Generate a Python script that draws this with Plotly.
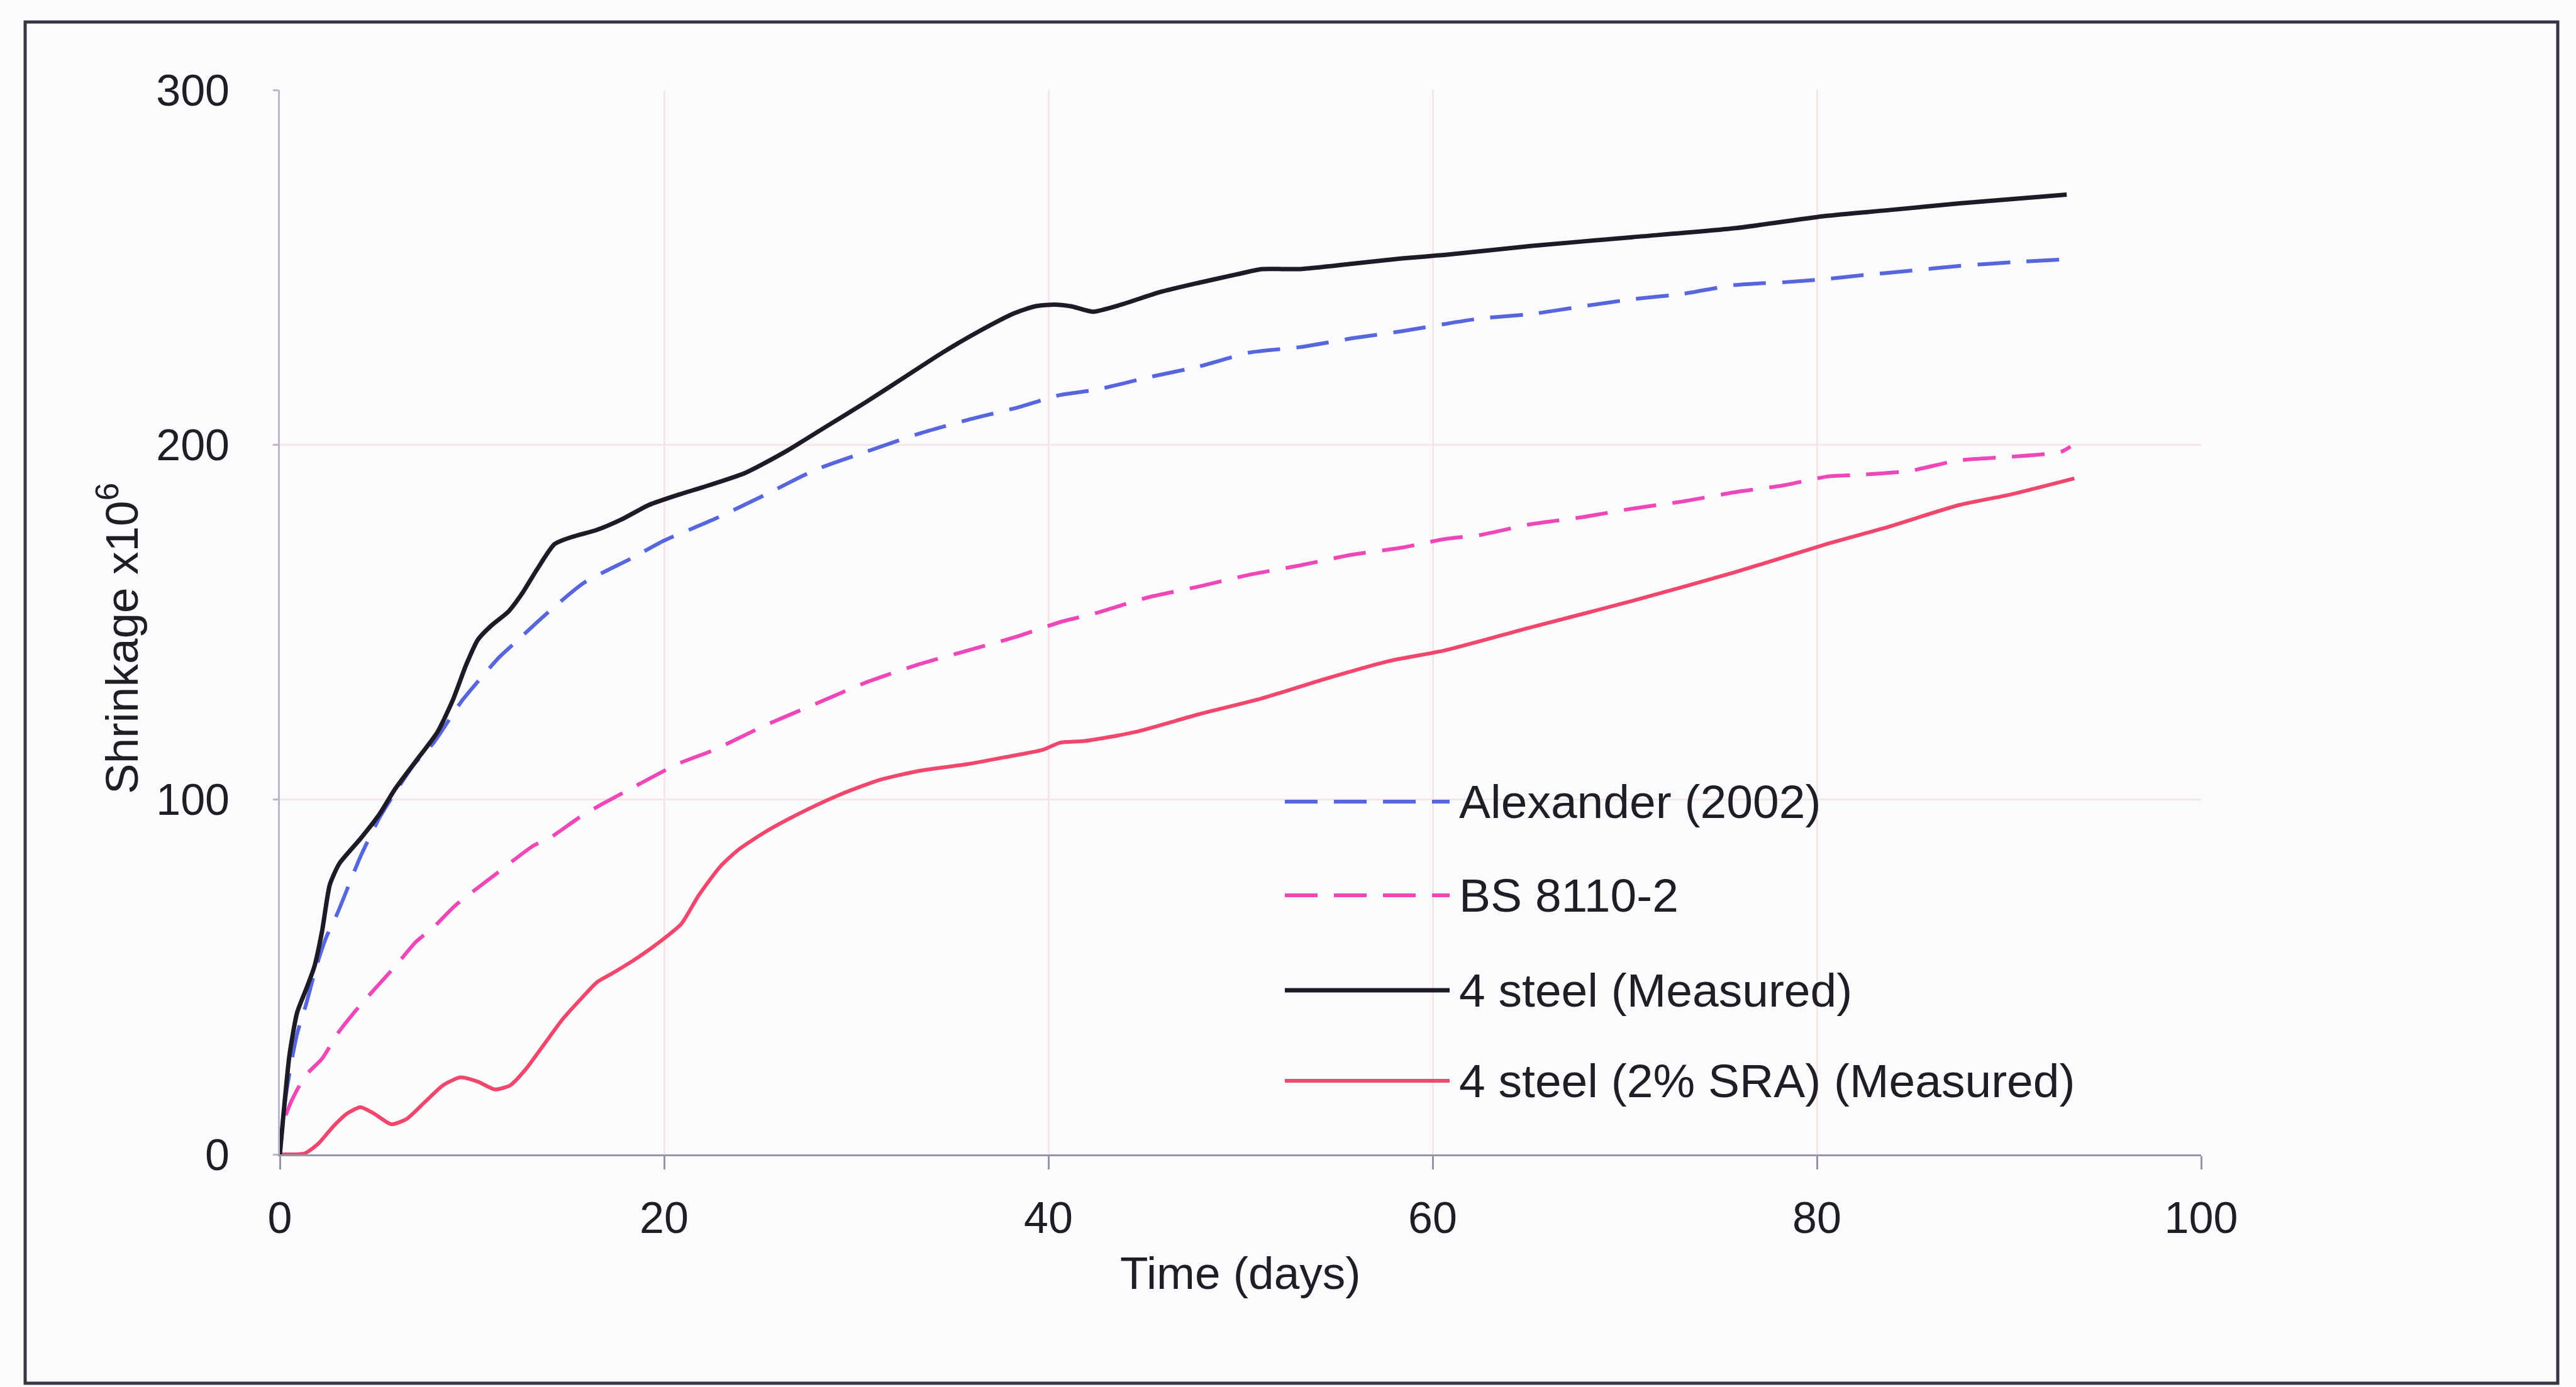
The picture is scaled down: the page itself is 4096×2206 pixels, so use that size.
import plotly.graph_objects as go

# Shrinkage (x10^-6) against time (days)
alex_days = [0, 0.3, 0.6, 0.9, 1.35, 1.9, 2.4, 3.0, 4.2, 5.2, 6.0, 7.0, 8.0, 9.5, 11.4, 12.2, 13.8,
             15.8, 18.3, 20, 22.6, 25.3, 27.9, 30.5, 33.2, 35.8, 38.4, 40.6, 42.5, 45.2, 47.8, 50.5,
             53.1, 55.8, 58.4, 60.6, 62.5, 65.1, 67.8, 70.4, 73, 75.7, 78.3, 80.5, 82.2, 84.8, 87.4,
             90.1, 93.1]
alex_vals = [0, 16, 26, 34, 42, 53, 61, 68, 84, 95, 102, 110, 116, 128, 140, 144, 152,
             161, 168, 173, 179, 186, 193, 198, 203, 207, 210.5, 214, 215.5, 219, 222, 226,
             227.5, 230, 232, 234, 235.6, 236.8, 239, 241, 242.5, 245, 245.8, 246.7, 247.7, 249, 250.4,
             251.4, 252.3]

bs_days = [0.3, 0.6, 1.3, 2.2, 3.0, 4.1, 6.0, 7.1, 8.0, 9.1, 11.0, 13.2, 14.0, 15.6, 16.7, 17.9,
           20.7, 22.6, 25.3, 27.9, 30.5, 33.2, 35.8, 38.4, 40.6, 42.5, 45.2, 47.8, 50.5, 53.1, 55.8,
           58.4, 60.6, 62.5, 65.1, 67.8, 70.4, 73, 75.7, 78.3, 80.5, 82.2, 84.8, 87.4, 90.1, 92.7, 93.2]
bs_vals = [11, 15, 22, 27, 34, 41.5, 53, 60, 64, 70, 78, 87, 89, 95, 98.5, 102,
           110, 114, 121, 127, 133, 138, 142, 146, 150, 152.6, 157, 160, 163.4, 166, 169,
           171, 173.4, 174.6, 177.6, 179.6, 182, 184, 186.6, 188.6, 191, 191.5, 192.6, 195.6, 196.6, 198, 199.5]

steel_days = [0, 0.2, 0.5, 0.9, 1.4, 1.8, 2.2, 2.6, 3.1, 4.2, 5.2, 6.0, 7.1, 8.2, 9.0, 9.7, 10.3,
              11.0, 11.9, 12.6, 13.4, 14.3, 15.2, 16.5, 17.8, 19.2, 20.8, 22, 24.2, 26.3, 28.4, 30.5,
              32.5, 34.5, 36.4, 38.2, 39.3, 40.3, 41.2, 42.3, 43.8, 45.8, 47.8, 49.8, 51.1, 53.1, 55.8,
              58.4, 60.6, 65.1, 70.4, 75.7, 80.5, 83.5, 87.4, 93.0]
steel_vals = [0, 12, 28, 40, 47, 53, 63, 76, 82, 89, 96, 103, 111, 119, 128, 138, 145,
              149, 153, 158, 165, 172, 174, 176, 179, 183, 186, 188, 192, 198, 205, 212,
              219, 226, 232, 237, 239, 239.5, 239, 237.5, 239.5, 243, 245.6, 248, 249.5, 249.5, 251,
              252.5, 253.5, 256, 258.5, 261, 264.5, 266, 268, 270.5]

sra_days = [0, 1.3, 2.0, 2.8, 3.5, 4.2, 4.9, 5.8, 6.6, 7.5, 8.5, 9.4, 10.3, 11.2, 12.0, 12.8, 13.7,
            14.7, 15.7, 16.5, 17.3, 18.5, 19.7, 20.9, 21.8, 22.9, 23.9, 25.3, 27.2, 29.2, 31.2, 33.2,
            35.8, 37.8, 39.7, 40.6, 41.9, 44.5, 47.8, 51.1, 54.4, 57.7, 60.6, 65.1, 70.4, 75.7, 80.5,
            83.5, 87.4, 90.1, 93.4]
sra_vals = [0, 0.3, 3, 8, 11.5, 13.3, 11.5, 8.5, 10, 14.5, 19.5, 21.7, 20.5, 18.3, 19.5, 24, 30.6,
            38, 44, 48.5, 51, 55, 59.6, 65, 73, 81, 86, 91, 96.5, 101.5, 105.5, 108,
            110, 112, 114, 116, 116.5, 119, 124, 128.5, 134, 139, 142, 148.5, 156, 164, 172,
            176.5, 183, 186, 190.5]

x_ticks = [0, 20, 40, 60, 80, 100]
y_ticks = [0, 100, 200, 300]

series_names = ["Alexander (2002)", "BS 8110-2", "4 steel (Measured)", "4 steel (2% SRA) (Measured)"]

BLUE = "#5866de"
PINK = "#ee48b8"
BLACK = "#1e1a26"
RED = "#f2476c"
DASH = "52px,26px"

FONT = "Liberation Sans, Arial, sans-serif"
TEXT = "#1f1d26"

fig = go.Figure()
fig.add_trace(go.Scatter(x=sra_days, y=sra_vals, mode="lines", name=series_names[3],
                         line=dict(color=RED, width=6, shape="spline", smoothing=0.6)))
fig.add_trace(go.Scatter(x=bs_days, y=bs_vals, mode="lines", name=series_names[1],
                         line=dict(color=PINK, width=6, dash=DASH, shape="spline", smoothing=0.6)))
fig.add_trace(go.Scatter(x=alex_days, y=alex_vals, mode="lines", name=series_names[0],
                         line=dict(color=BLUE, width=6, dash=DASH, shape="spline", smoothing=0.6)))
fig.add_trace(go.Scatter(x=steel_days, y=steel_vals, mode="lines", name=series_names[2],
                         line=dict(color=BLACK, width=7, shape="spline", smoothing=0.6)))

# Plot-area geometry in pixels
L, R, T, B = 445, 3500, 143, 1836
W, H = 4096, 2206
PW, PH = R - L, B - T


def px(xp):
    return (xp - L) / PW


def py(yp):
    return (B - yp) / PH


shapes = []
# outer frame around the whole chart
shapes.append(dict(type="rect", xref="paper", yref="paper",
                   x0=px(40), x1=px(4067), y0=py(2200), y1=py(35),
                   line=dict(color="#3a3542", width=5), layer="below"))

# legend keys
key_rows = [1275, 1424, 1575, 1719]
key_styles = [(BLUE, DASH, 6), (PINK, DASH, 6), (BLACK, "solid", 7), (RED, "solid", 6)]
annotations = []
for name, yrow, (col, dash, wd) in zip(series_names, key_rows, key_styles):
    shapes.append(dict(type="line", xref="paper", yref="paper",
                       x0=px(2043), x1=px(2305), y0=py(yrow), y1=py(yrow),
                       line=dict(color=col, width=wd, dash=dash)))
    annotations.append(dict(text=name, xref="paper", yref="paper", x=px(2318), y=py(yrow),
                            xanchor="left", yanchor="middle", showarrow=False,
                            font=dict(family=FONT, size=75, color=TEXT)))

# axis titles
annotations.append(dict(text="Time (days)", xref="paper", yref="paper", x=0.5, y=py(2024),
                        xanchor="center", yanchor="middle", showarrow=False,
                        font=dict(family=FONT, size=73, color=TEXT)))
annotations.append(dict(text="Shrinkage x10<sup>6</sup>", xref="paper", yref="paper",
                        x=px(188), y=py(1016), xanchor="center", yanchor="middle",
                        textangle=-90, showarrow=False,
                        font=dict(family=FONT, size=73, color=TEXT)))

fig.update_layout(
    width=W, height=H,
    margin=dict(l=L, r=W - R, t=T, b=H - B),
    paper_bgcolor="#fbfbfd", plot_bgcolor="#fbfbfd",
    showlegend=False,
    shapes=shapes, annotations=annotations,
    xaxis=dict(range=[0, 100], tickvals=x_ticks, ticktext=[str(v) for v in x_ticks],
               showline=True, linecolor="#9a94aa", linewidth=3,
               ticks="outside", ticklen=21, tickwidth=3, tickcolor="#9a94aa",
               showgrid=True, gridcolor="#f6e6e6", gridwidth=3, zeroline=False,
               ticklabelstandoff=17,
               tickfont=dict(family=FONT, size=70, color=TEXT)),
    yaxis=dict(range=[0, 300], tickvals=y_ticks, ticktext=[str(v) for v in y_ticks],
               showline=True, linecolor="#bcb6cc", linewidth=3,
               ticks="outside", ticklen=8, tickwidth=3, tickcolor="#bcb6cc",
               showgrid=True, gridcolor="#f6e6e6", gridwidth=3, zeroline=False,
               ticklabelstandoff=55,
               tickfont=dict(family=FONT, size=70, color=TEXT)),
)

fig.write_html("out.html")
